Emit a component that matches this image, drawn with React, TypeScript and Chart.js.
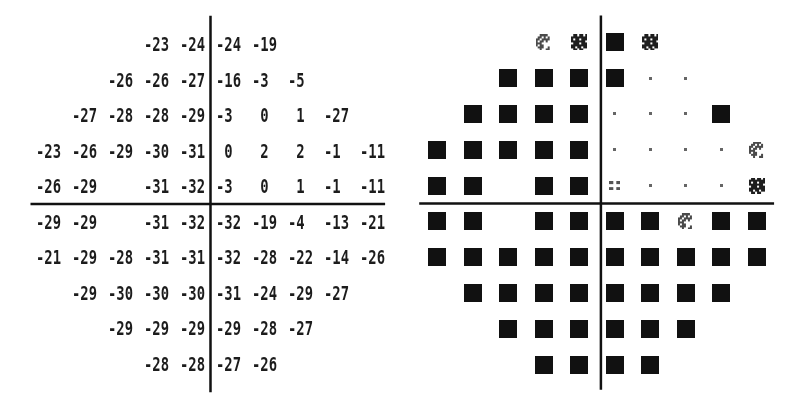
import React, { useEffect, useRef } from "react";
import { Chart, registerables } from "chart.js";

Chart.register(...registerables);

// ---- grid geometry (test-point grid, in grid units) ----
const columnPositions = [-4.5, -3.5, -2.5, -1.5, -0.5, 0.5, 1.5, 2.5, 3.5, 4.5];
const rowPositions = [4.5, 3.5, 2.5, 1.5, 0.5, -0.5, -1.5, -2.5, -3.5, -4.5];

// ---- total deviation values (dB), rows top to bottom; null = no test point ----
const deviationRow1 = [null, null, null, -23, -24, -24, -19, null, null, null];
const deviationRow2 = [null, null, -26, -26, -27, -16, -3, -5, null, null];
const deviationRow3 = [null, -27, -28, -28, -29, -3, 0, 1, -27, null];
const deviationRow4 = [-23, -26, -29, -30, -31, 0, 2, 2, -1, -11];
const deviationRow5 = [-26, -29, null, -31, -32, -3, 0, 1, -1, -11];
const deviationRow6 = [-29, -29, null, -31, -32, -32, -19, -4, -13, -21];
const deviationRow7 = [-21, -29, -28, -31, -31, -32, -28, -22, -14, -26];
const deviationRow8 = [null, -29, -30, -30, -30, -31, -24, -29, -27, null];
const deviationRow9 = [null, null, -29, -29, -29, -29, -28, -27, null, null];
const deviationRow10 = [null, null, null, -28, -28, -27, -26, null, null, null];

// ---- probability symbols: "p05" <0.5%, "p1" <1%, "p2" <2%, "p5" <5%, "n" normal ----
const probabilityRow1 = [null, null, null, "p2", "p1", "p05", "p1", null, null, null];
const probabilityRow2 = [null, null, "p05", "p05", "p05", "p05", "n", "n", null, null];
const probabilityRow3 = [null, "p05", "p05", "p05", "p05", "n", "n", "n", "p05", null];
const probabilityRow4 = ["p05", "p05", "p05", "p05", "p05", "n", "n", "n", "n", "p2"];
const probabilityRow5 = ["p05", "p05", null, "p05", "p05", "p5", "n", "n", "n", "p1"];
const probabilityRow6 = ["p05", "p05", null, "p05", "p05", "p05", "p05", "p2", "p05", "p05"];
const probabilityRow7 = ["p05", "p05", "p05", "p05", "p05", "p05", "p05", "p05", "p05", "p05"];
const probabilityRow8 = [null, "p05", "p05", "p05", "p05", "p05", "p05", "p05", "p05", null];
const probabilityRow9 = [null, null, "p05", "p05", "p05", "p05", "p05", "p05", null, null];
const probabilityRow10 = [null, null, null, "p05", "p05", "p05", "p05", null, null, null];

const deviationRows = [
  deviationRow1, deviationRow2, deviationRow3, deviationRow4, deviationRow5,
  deviationRow6, deviationRow7, deviationRow8, deviationRow9, deviationRow10,
];
const probabilityRows = [
  probabilityRow1, probabilityRow2, probabilityRow3, probabilityRow4, probabilityRow5,
  probabilityRow6, probabilityRow7, probabilityRow8, probabilityRow9, probabilityRow10,
];

function gridPoints(rows: any[][]) {
  const pts: any[] = [];
  rows.forEach((row, r) => {
    row.forEach((v, c) => {
      if (v !== null && v !== undefined) pts.push({ x: columnPositions[c], y: rowPositions[r], v });
    });
  });
  return pts;
}

function formatValue(v: number) {
  const s = v < 0 ? "-" + Math.abs(v) : " " + v;
  return s.padEnd(3, " ");
}

function bitmap(pattern: string[], cell: number, color: string) {
  const c = document.createElement("canvas");
  c.width = pattern[0].length * cell;
  c.height = pattern.length * cell;
  const ctx = c.getContext("2d")!;
  ctx.fillStyle = color;
  pattern.forEach((line, r) => {
    for (let i = 0; i < line.length; i++) {
      if (line[i] === "X") ctx.fillRect(i * cell, r * cell, cell, cell);
    }
  });
  return c;
}

function makeSymbols() {
  const square = document.createElement("canvas");
  square.width = 18;
  square.height = 18;
  const sctx = square.getContext("2d")!;
  sctx.fillStyle = "#111";
  sctx.fillRect(0, 0, 18, 18);

  const p1 = bitmap(
    [
      ".XX.XX.X",
      "XXXXXXXX",
      "X.XX.XXX",
      "XXXXXXX.",
      ".XXX.XXX",
      "XXXXXXXX",
      "XX.XX.XX",
      ".XX.XX..",
    ],
    2,
    "#1e1e1e"
  );
  const p2 = bitmap(
    [
      "..XXXX..",
      ".XX.X.X.",
      "XX.XXXX.",
      "X.XX.X..",
      "XXX.....",
      "X.XX....",
      ".XXX..X.",
      "..X..XX.",
    ],
    2,
    "#4a4a4a"
  );
  const p5 = document.createElement("canvas");
  p5.width = 11;
  p5.height = 9;
  const p5ctx = p5.getContext("2d")!;
  p5ctx.fillStyle = "#555";
  p5ctx.fillRect(0, 0, 4, 3);
  p5ctx.fillRect(7, 0, 4, 3);
  p5ctx.fillRect(0, 6, 4, 3);
  p5ctx.fillRect(7, 6, 4, 3);

  const n = document.createElement("canvas");
  n.width = 3;
  n.height = 3;
  const nctx = n.getContext("2d")!;
  nctx.fillStyle = "#666";
  nctx.fillRect(0, 0, 3, 3);

  return { p05: square, p1, p2, p5, n } as Record<string, HTMLCanvasElement>;
}

const valueLabelPlugin = {
  id: "valueLabels",
  afterDatasetsDraw(chart: any) {
    const idx = chart.data.datasets.findIndex((d: any) => d.label === "values");
    if (idx < 0) return;
    const ds = chart.data.datasets[idx];
    const meta = chart.getDatasetMeta(idx);
    const ctx = chart.ctx;
    meta.data.forEach((el: any, i: number) => {
      const raw = ds.data[i];
      ctx.save();
      ctx.translate(el.x, el.y);
      ctx.scale(0.73, 1);
      ctx.font = 'bold 19px "DejaVu Sans Mono"';
      ctx.fillStyle = "#1c1c1c";
      ctx.textAlign = "center";
      ctx.textBaseline = "alphabetic";
      ctx.fillText(formatValue(raw.v), 0, 7);
      ctx.restore();
    });
  },
};

function axisLine(points: { x: number; y: number }[]) {
  return {
    label: "axis",
    data: points,
    showLine: true,
    borderColor: "#111",
    borderWidth: 2.5,
    pointRadius: 0,
    fill: false,
  };
}

function baseOptions(xMin: number, xMax: number, yMin: number, yMax: number) {
  return {
    responsive: false,
    animation: false as const,
    devicePixelRatio: 1,
    events: [] as any[],
    layout: { padding: 0, autoPadding: false },
    plugins: { legend: { display: false }, tooltip: { enabled: false }, title: { display: false } },
    scales: {
      x: { type: "linear" as const, min: xMin, max: xMax, display: false },
      y: { type: "linear" as const, min: yMin, max: yMax, display: false },
    },
  };
}

export default function App() {
  const leftRef = useRef<HTMLCanvasElement>(null);
  const rightRef = useRef<HTMLCanvasElement>(null);

  useEffect(() => {
    const symbols = makeSymbols();

    const left = new Chart(leftRef.current!, {
      type: "scatter",
      data: {
        datasets: [
          axisLine([{ x: 0, y: 5.3 }, { x: 0, y: -5.3 }]),
          axisLine([{ x: -5.0, y: 0 }, { x: 4.85, y: 0 }]),
          { label: "values", data: gridPoints(deviationRows), pointRadius: 0 } as any,
        ],
      },
      options: baseOptions(-5.847, 5.375, -5.859, 5.746) as any,
      plugins: [valueLabelPlugin],
    });

    const probPoints = gridPoints(probabilityRows);
    const right = new Chart(rightRef.current!, {
      type: "scatter",
      data: {
        datasets: [
          axisLine([{ x: 0.11, y: 5.25 }, { x: 0.11, y: -5.2 }]),
          axisLine([{ x: -5.0, y: 0 }, { x: 4.98, y: 0 }]),
          {
            label: "probability",
            data: probPoints,
            pointRadius: 3,
            pointStyle: (c: any) => symbols[probPoints[c.dataIndex]?.v] || "circle",
          } as any,
        ],
      },
      options: baseOptions(-5.4275, 5.934, -5.824, 5.684) as any,
    });

    return () => {
      left.destroy();
      right.destroy();
    };
  }, []);

  return (
    <div
      style={{
        position: "fixed",
        left: 0,
        top: 0,
        width: 808,
        height: 412,
        background: "#fff",
        display: "flex",
      }}
    >
      <canvas ref={leftRef} width={404} height={412} style={{ display: "block" }} />
      <canvas ref={rightRef} width={404} height={412} style={{ display: "block" }} />
    </div>
  );
}
